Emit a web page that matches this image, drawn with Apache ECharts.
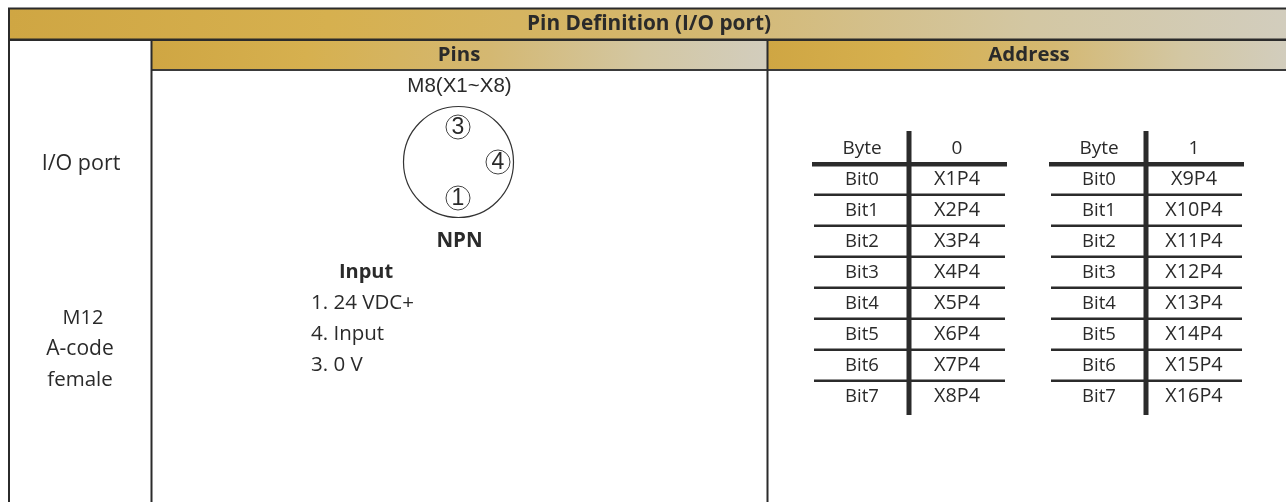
<!DOCTYPE html>
<html><head><meta charset="utf-8">
<style>html,body{margin:0;padding:0;background:#fff}#c{width:1286px;height:502px}</style>
<script src="https://cdn.jsdelivr.net/npm/echarts@6/dist/echarts.min.js"></script>
</head><body><div id="c"></div>
<script>
const title = 'Pin Definition (I/O port)';
const colHeads = ['Pins', 'Address'];
const leftLabels = ['I/O port', 'M12', 'A-code', 'female'];
const connector = 'M8(X1~X8)';
const pinNumbers = ['3', '4', '1'];
const polarity = 'NPN';
const inputHead = 'Input';
const inputLines = ['1. 24 VDC+', '4. Input', '3. 0 V'];
const bits = ['Bit0','Bit1','Bit2','Bit3','Bit4','Bit5','Bit6','Bit7'];
const byte0 = ['X1P4','X2P4','X3P4','X4P4','X5P4','X6P4','X7P4','X8P4'];
const byte1 = ['X9P4','X10P4','X11P4','X12P4','X13P4','X14P4','X15P4','X16P4'];

const FONT = '"Open Sans","Noto Sans",sans-serif';
const ARIAL = '"Liberation Sans",Arial,sans-serif';
const INK = '#2b2b2b', TXT = '#2a2a2a';
const g = [];
function grad(){ return {type:'linear',x:0,y:0,x2:1,y2:0,colorStops:[
  {offset:0,color:'#cfa643'},{offset:.25,color:'#d6b04f'},{offset:.55,color:'#d4b872'},{offset:.8,color:'#d3c7a3'},{offset:1,color:'#d2cdbd'}]}; }
function rect(x,y,w,h,fill){ g.push({type:'rect',silent:true,shape:{x,y,width:w,height:h},style:{fill}}); }
function text(t,x,y,o={}){ g.push({type:'text',silent:true,x,y:y+1.5,style:Object.assign({text:t,fill:TXT,font:`${o.bold?'bold ':''}${o.size||19}px ${o.family||FONT}`,align:o.align||'center',verticalAlign:'middle'},o.style||{})}); }

// header bands
rect(9,9,1277,30,grad());
rect(152,41,615,28,grad());
rect(768,41,518,28,grad());
// frame lines
rect(8,7.5,1278,2,INK);
rect(8,38.5,1278,2.5,INK);
rect(152,69,1134,2,'#3a3a3a');
rect(8,8,2,494,INK);
rect(150.5,40,2,462,INK);
rect(766.5,40,2,462,INK);

text(title,649,23,{bold:true,size:20.8});
text(colHeads[0],459,54,{bold:true,size:20.4});
text(colHeads[1],1029,54,{bold:true,size:20.4});

text(leftLabels[0],81,162,{size:21.5});
text(leftLabels[1],83,317,{size:20});
text(leftLabels[2],80,348,{size:21});
text(leftLabels[3],80,379,{size:20.5});

text(connector,459.5,85,{size:20.5,family:ARIAL});
g.push({type:'ellipse',silent:true,shape:{cx:458.5,cy:162,rx:55,ry:55.5},style:{fill:'none',stroke:'#333',lineWidth:1.2}});
const pinPos = [[458,127],[498,162],[458,198]];
pinNumbers.forEach((p,i)=>{
  g.push({type:'circle',silent:true,shape:{cx:pinPos[i][0],cy:pinPos[i][1],r:12},style:{fill:'none',stroke:'#444',lineWidth:1}});
  text(p,pinPos[i][0],pinPos[i][1]-1,{size:23,family:ARIAL});
});
text(polarity,459.5,240,{bold:true,size:20.5});
text(inputHead,366,271,{bold:true,size:20});
inputLines.forEach((s,i)=>text(s,311,302+31*i,{align:'left',size:20.5}));

function table(x0,barX,label,vals){
  text('Byte',barX-47,147,{size:19});
  text(label,barX+48,147,{size:19});
  rect(x0,162,195,4.5,INK);
  vals.forEach((v,i)=>{
    if(i>0) rect(x0+2,163+31*i-.5,191,2.4,INK);
    text(bits[i],barX-47,178+31*i,{size:18.5});
    text(v,barX+48,178+31*i,{size:19.8});
  });
  rect(barX-2.5,131,5,284,INK);
}
table(812,909,'0',byte0);
table(1049,1146,'1',byte1);

const chart = echarts.init(document.getElementById('c'),null,{renderer:'canvas'});
chart.setOption({animation:false,backgroundColor:'#fff',graphic:{elements:g}});
</script></body></html>
